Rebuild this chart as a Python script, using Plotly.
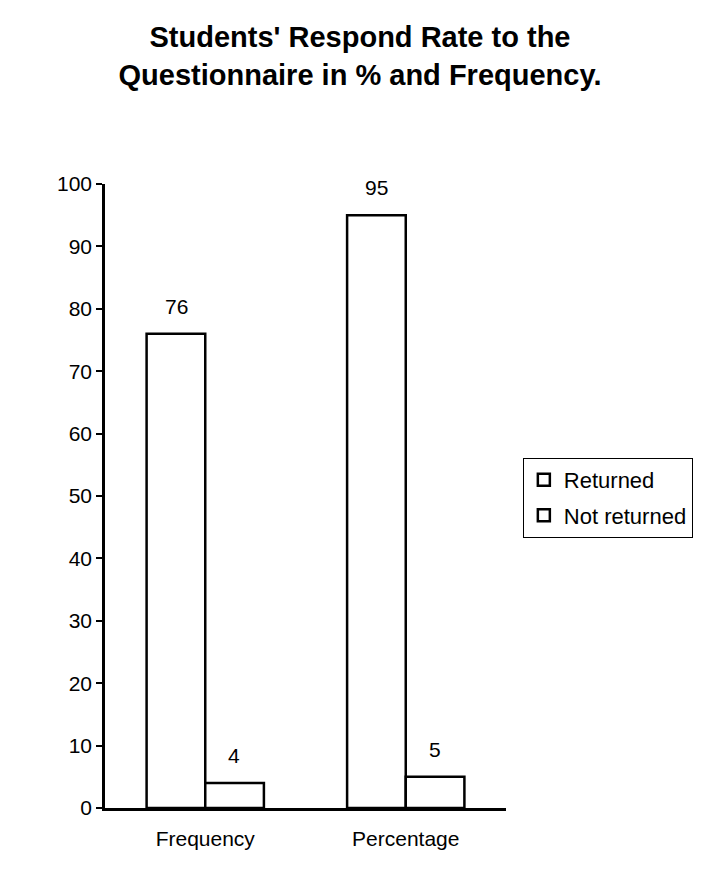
import plotly.graph_objects as go

categories = ["Frequency", "Percentage"]
returned = [76, 95]
not_returned = [4, 5]
y_ticks = list(range(0, 101, 10))

bar_style = dict(color="white", line=dict(color="black", width=2.5))
font_main = "Liberation Sans, Arial, sans-serif"

fig = go.Figure()
fig.add_trace(go.Bar(x=categories, y=returned, name="Returned", marker=bar_style,
                     legendgroup="a"))
fig.add_trace(go.Bar(x=categories, y=not_returned, name="Not returned", marker=bar_style,
                     legendgroup="b"))

# value labels sit a little higher above the bars than plotly's own outside text
for vals, dx in ((returned, -29), (not_returned, 29)):
    for cat, v in zip(categories, vals):
        fig.add_annotation(x=cat, y=v, text=str(v), showarrow=False,
                           xshift=dx, yshift=14, yanchor="bottom",
                           font=dict(size=21, color="black"))

fig.update_layout(
    width=704, height=870, barmode="group", bargap=0.415, bargroupgap=0,
    paper_bgcolor="white", plot_bgcolor="white",
    font=dict(family=font_main, size=21, color="black"),
    title=dict(text="<b>Students' Respond Rate to the<br>Questionnaire in % and Frequency.</b>",
               x=0.5, xanchor="center", y=0.955, yanchor="top",
               font=dict(size=29, color="black")),
    margin=dict(l=97, r=206, t=176, b=70),
    legend=dict(x=1.042, y=0.561, xanchor="left", yanchor="top",
                bordercolor="black", borderwidth=1, bgcolor="white",
                font=dict(size=22), tracegroupgap=4),
    xaxis=dict(showline=True, linecolor="black", linewidth=2.5, ticks="",
               showgrid=False, tickfont=dict(size=21), ticklabelstandoff=10),
    yaxis=dict(range=[0, 100], tickvals=y_ticks, showline=True, linecolor="black",
               linewidth=2.5, ticks="outside", ticklen=6, tickwidth=2, tickcolor="black",
               showgrid=False, zeroline=False, tickfont=dict(size=21)),
)

fig.write_html("out.html")
